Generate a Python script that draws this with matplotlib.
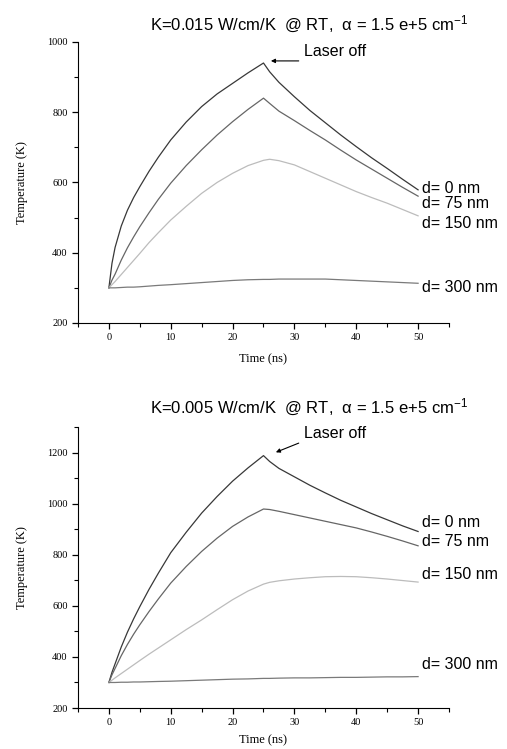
import numpy as np
import matplotlib
matplotlib.use('Agg')
import matplotlib.pyplot as plt
from matplotlib.ticker import MultipleLocator

plt.rcParams['mathtext.default'] = 'regular'

# time axis (ns)
time_ns = [0, 0.5, 1, 2, 3, 4, 5, 6.5, 8, 10, 12.5, 15, 17.5, 20, 22.5, 25,
           26, 27.5, 30, 32.5, 35, 37.5, 40, 42.5, 45, 47.5, 50]

depth_labels = ['d= 0 nm', 'd= 75 nm', 'd= 150 nm', 'd= 300 nm']

# K = 0.015 W/cm/K
top_d0 = [300, 370, 415, 476, 521, 557, 588, 632, 672, 721, 772, 816, 852,
          882, 912, 940, 915, 885, 844, 805, 770, 735, 702, 670, 640, 609, 579]
top_d75 = [300, 322, 339, 379, 414, 445, 474, 514, 552, 598, 648, 693, 735,
           773, 808, 840, 825, 803, 776, 748, 721, 692, 664, 638, 612, 586, 561]
top_d150 = [300, 309, 318, 338, 358, 378, 398, 429, 457, 493, 532, 569, 600,
            626, 648, 663, 666, 662, 650, 631, 612, 593, 574, 557, 541, 523, 505]
top_d300 = [300, 300, 300, 301, 302, 302, 303, 305, 307, 309, 312, 315, 318,
            321, 323, 324, 324, 325, 325, 325, 325, 323, 321, 319, 317, 315, 313]

# K = 0.005 W/cm/K
bot_d0 = [300, 340, 373, 439, 497, 549, 597, 665, 728, 808, 888, 963, 1028,
          1088, 1140, 1188, 1165, 1138, 1105, 1072, 1042, 1013, 987, 961, 937,
          913, 891]
bot_d75 = [300, 330, 355, 405, 449, 489, 526, 578, 627, 689, 754, 813, 865,
           911, 948, 979, 977, 970, 957, 944, 931, 918, 905, 889, 872, 854, 835]
bot_d150 = [300, 309, 318, 335, 352, 369, 386, 411, 435, 467, 507, 545, 585,
            624, 658, 685, 692, 698, 705, 710, 714, 715, 714, 710, 705, 699, 693]
bot_d300 = [300, 300, 300, 301, 301, 302, 302, 303, 304, 305, 307, 309, 311,
            313, 314, 316, 316, 317, 318, 318, 319, 320, 320, 321, 322, 322, 323]

line_colors = ['#383838', '#666666', '#bcbcbc', '#7a7a7a']

serif = ['Liberation Serif', 'DejaVu Serif']
sans = ['Liberation Sans', 'DejaVu Sans']


def draw_panel(ax, series, ylim, label_y, arrow_from, arrow_to, text_xy, xpad):
    for y, c in zip(series, line_colors):
        ax.plot(time_ns, y, color=c, lw=0.9)

    ax.set_xlim(-5, 55)
    ax.set_ylim(*ylim)
    ax.xaxis.set_major_locator(MultipleLocator(10))
    ax.xaxis.set_minor_locator(MultipleLocator(5))
    ax.yaxis.set_major_locator(MultipleLocator(200))
    ax.yaxis.set_minor_locator(MultipleLocator(100))
    ax.spines['top'].set_visible(False)
    ax.spines['right'].set_visible(False)
    ax.tick_params(which='major', direction='out', length=4, width=0.9,
                   labelsize=7.5)
    ax.tick_params(which='minor', direction='out', length=3, width=0.8)
    for lab in ax.get_xticklabels() + ax.get_yticklabels():
        lab.set_family(serif)

    ax.set_xlabel('Time (ns)', family=serif, fontsize=9, labelpad=xpad)
    ax.set_ylabel('Temperature (K)', family=serif, fontsize=9, labelpad=14)

    for lab, ly in zip(depth_labels, label_y):
        ax.text(50.6, ly, lab, family=sans, fontsize=11.5, va='center',
                ha='left', clip_on=False)

    ax.annotate('', xy=arrow_to, xytext=arrow_from,
                arrowprops=dict(arrowstyle='-|>', color='black', lw=0.8,
                                mutation_scale=6, shrinkA=0, shrinkB=0))
    ax.text(text_xy[0], text_xy[1], 'Laser off', family=sans, fontsize=11.5,
            va='center', ha='left')


fig = plt.figure(figsize=(5.07, 7.49), dpi=100)
ax1 = fig.add_axes([0.1538, 0.5688, 0.7318, 0.3752])
ax2 = fig.add_axes([0.1538, 0.0547, 0.7318, 0.3752])

title1 = 'K=0.015 W/cm/K  @ RT,  α = 1.5 e+5 cm$^{-1}$'
title2 = 'K=0.005 W/cm/K  @ RT,  α = 1.5 e+5 cm$^{-1}$'
fig.text(0.609, 0.967, title1, family=sans, fontsize=12, ha='center',
         va='center')
fig.text(0.609, 0.4556, title2, family=sans, fontsize=12, ha='center',
         va='center')

draw_panel(ax1, [top_d0, top_d75, top_d150, top_d300], (200, 1000),
           [582, 540, 482, 300], (30.7, 946), (26.2, 946), (31.5, 974), 8)
draw_panel(ax2, [bot_d0, bot_d75, bot_d150, bot_d300], (200, 1300),
           [925, 852, 722, 369], (30.7, 1237), (27.0, 1201), (31.5, 1273), 5)

fig.savefig('out.png', dpi=100)
